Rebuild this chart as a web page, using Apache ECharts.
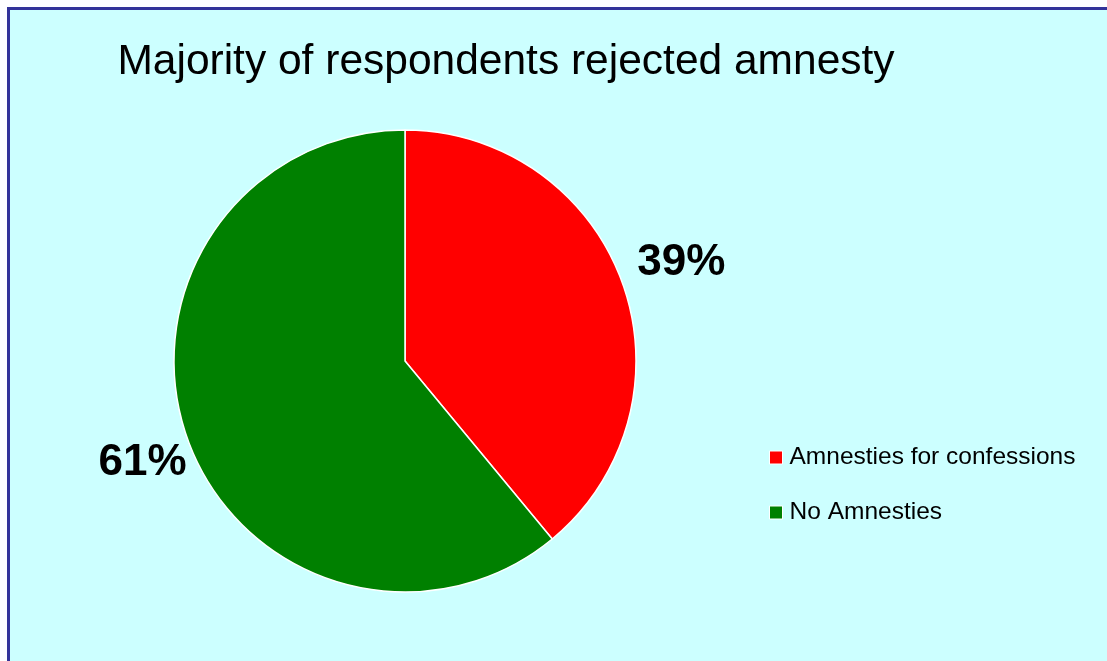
<!DOCTYPE html>
<html>
<head>
<meta charset="utf-8">
<script src="https://cdn.jsdelivr.net/npm/echarts@6/dist/echarts.min.js"></script>
<style>
html,body{margin:0;padding:0;background:#fff;}
#main{width:1107px;height:661px;}
</style>
</head>
<body>
<div id="main"></div>
<script>
const categories = ['Amnesties for confessions', 'No Amnesties'];
const values = [39, 61];
const colors = ['#FF0000', '#008000'];
const titleText = 'Majority of respondents rejected amnesty';

const chart = echarts.init(document.getElementById('main'), null, {renderer: 'canvas'});
const labelShift = [{dx: 15, dy: -20}, {dx: -1, dy: 24}];
chart.setOption({
  backgroundColor: '#ffffff',
  animation: false,
  graphic: [{
    type: 'rect',
    shape: {x: 8.5, y: 8.5, width: 1200, height: 700},
    style: {fill: '#CCFFFF', stroke: '#333399', lineWidth: 3},
    z: -10, silent: true
  }],
  title: {
    text: titleText,
    left: 501, top: 36, textAlign: 'center',
    textStyle: {fontFamily: 'Liberation Sans', fontSize: 42.5, fontWeight: 'normal', color: '#000'}
  },
  legend: {
    orient: 'vertical',
    left: 764, top: 440,
    itemWidth: 13, itemHeight: 13, itemGap: 30,
    icon: 'rect',
    data: categories,
    itemStyle: {borderColor: '#fff', borderWidth: 1},
    textStyle: {fontFamily: 'Liberation Sans', fontSize: 24.5, lineHeight: 24, color: '#000', padding: [0, 0, 0, 2]}
  },
  series: [{
    type: 'pie',
    center: [405, 361],
    radius: 231,
    startAngle: 90,
    clockwise: true,
    color: colors,
    itemStyle: {borderColor: '#fff', borderWidth: 1.5},
    label: {
      show: true, position: 'outside',
      formatter: '{d}%',
      fontFamily: 'Liberation Sans', fontSize: 44, fontWeight: 'bold', color: '#000',
      distanceToLabelLine: 0
    },
    labelLine: {show: false, length: 0, length2: 0},
    labelLayout: function (p) { return labelShift[p.dataIndex]; },
    data: categories.map((c, i) => ({name: c, value: values[i]}))
  }]
});
</script>
</body>
</html>
